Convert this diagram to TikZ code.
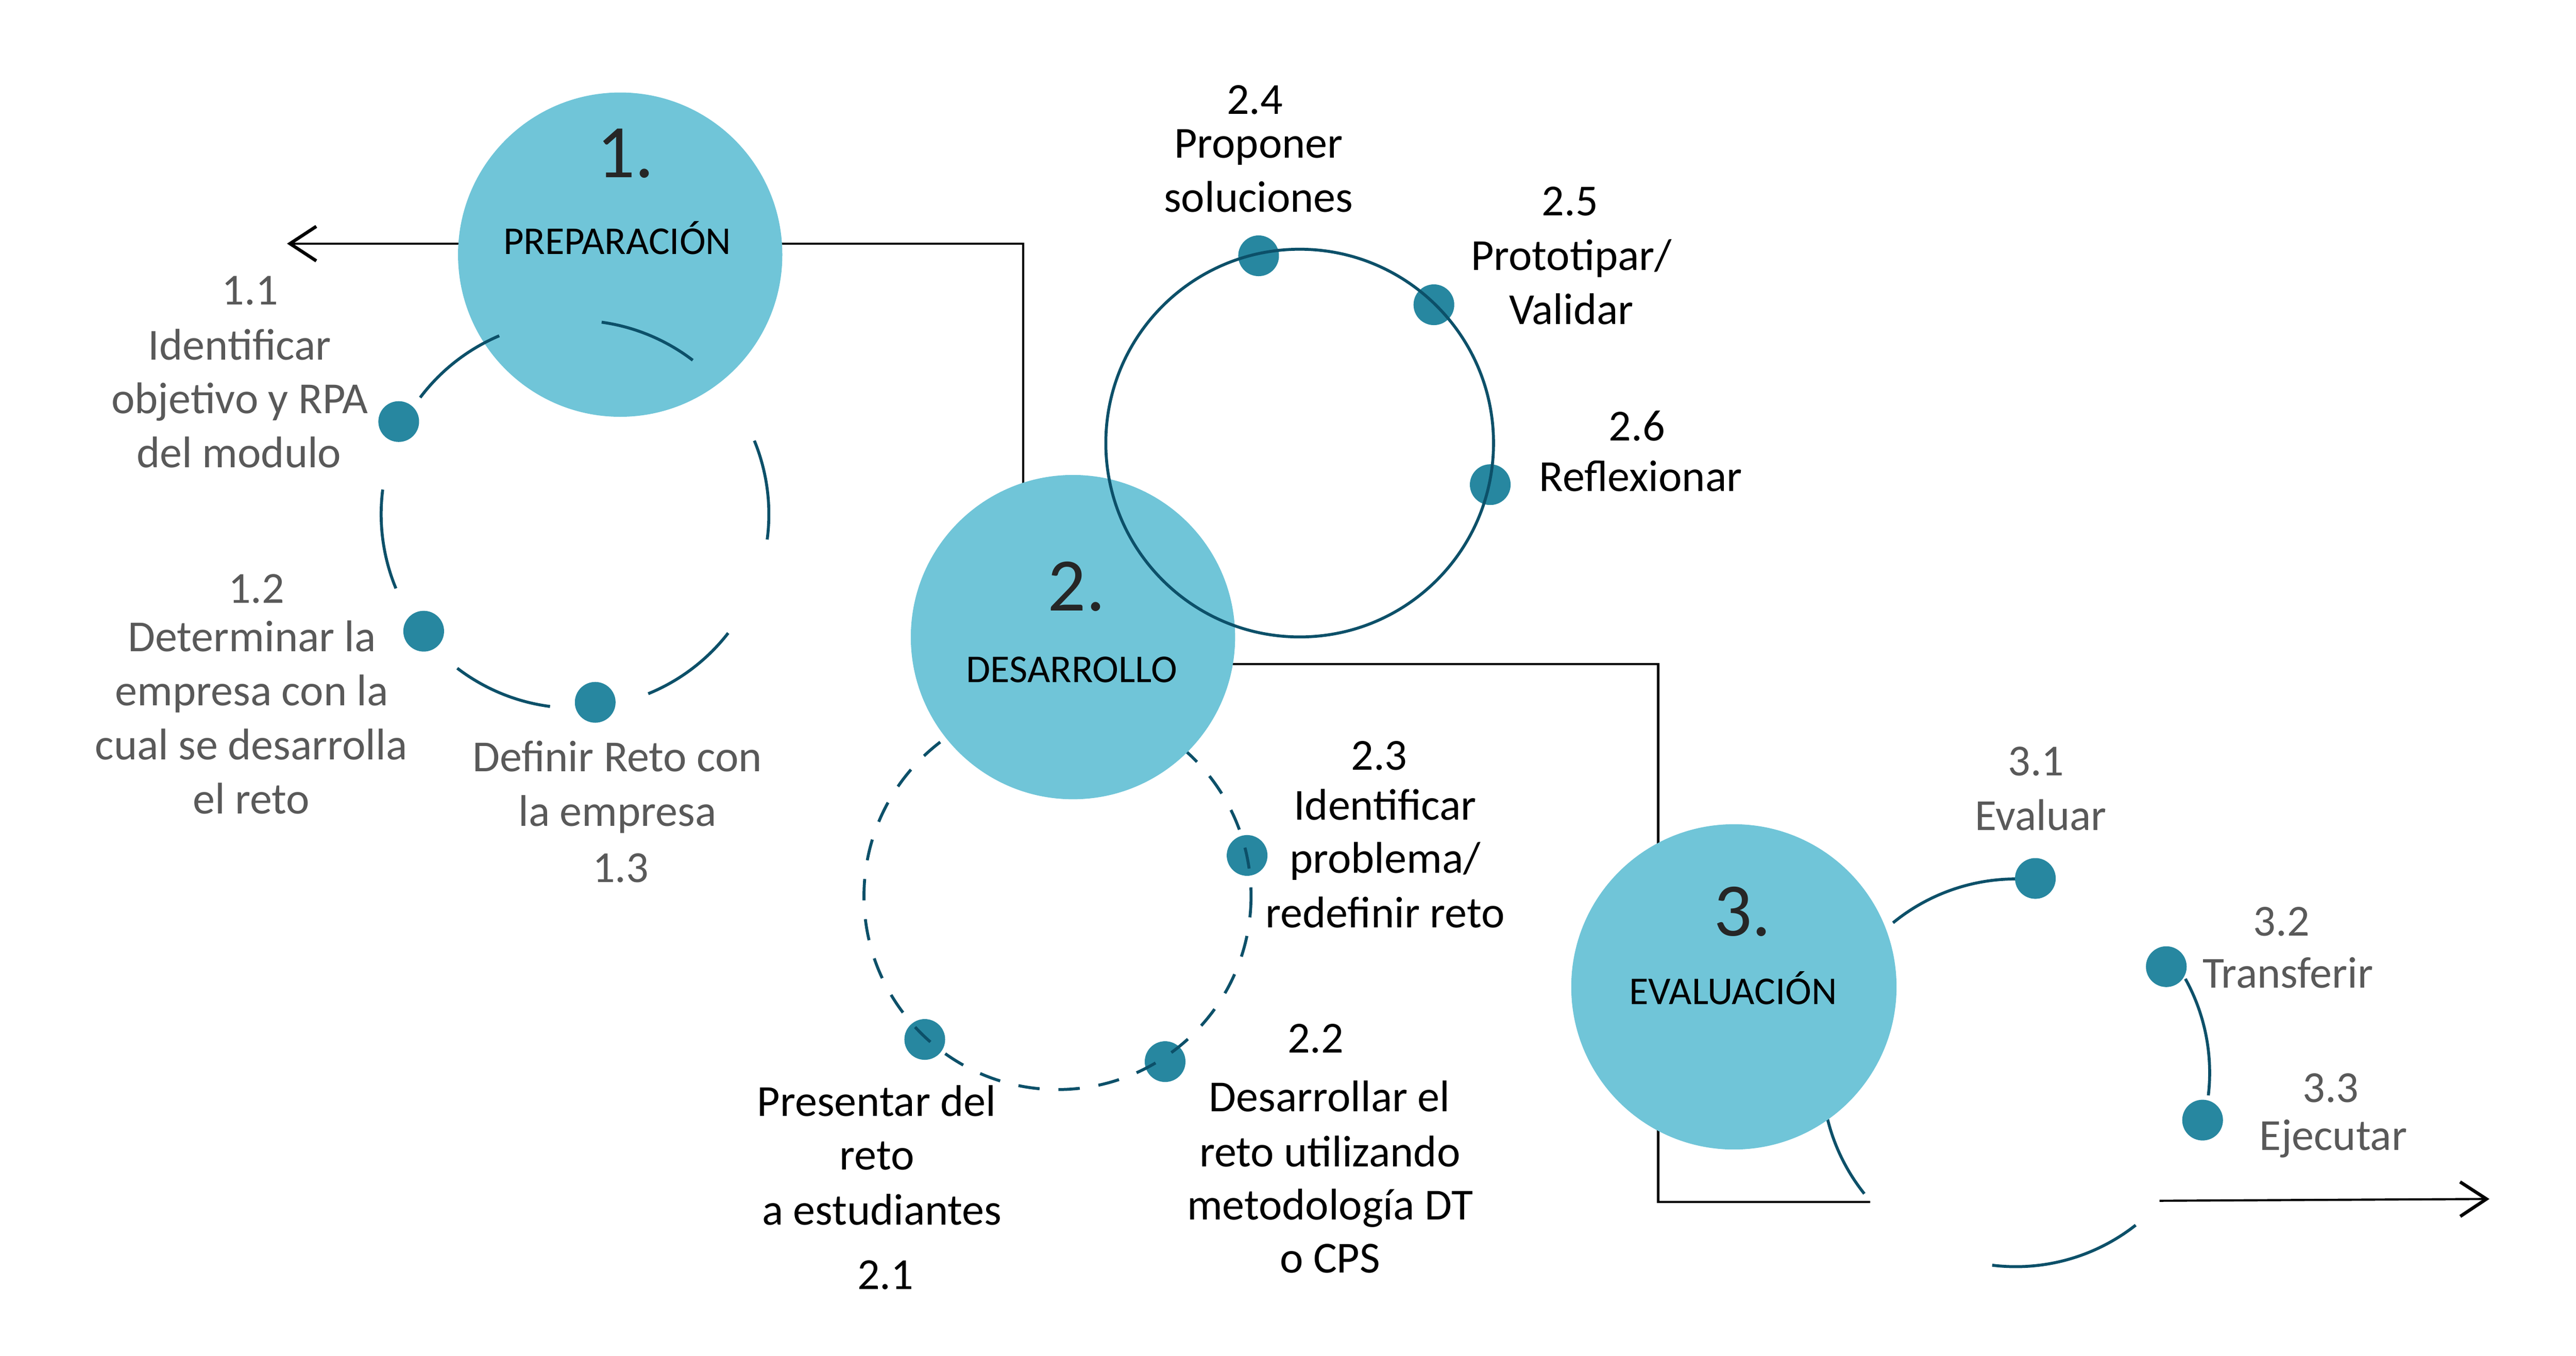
\documentclass[tikz,border=0pt]{standalone}
\usepackage{fontspec}
\setmainfont{Carlito}
\usetikzlibrary{arrows.meta}
\definecolor{cfill}{HTML}{70C5D8}
\definecolor{cdot}{HTML}{2787A0}
\definecolor{cring}{HTML}{0C5069}
\definecolor{cgray}{HTML}{595959}
\definecolor{cnum}{HTML}{262626}
\begin{document}
\begin{tikzpicture}[x=1pt,y=-1pt,
  bigc/.style={circle, fill=cfill, minimum size=197.4pt, inner sep=0pt},
  dotc/.style={circle, fill=cdot, minimum size=24.8pt, inner sep=0pt},
  ring/.style={draw=cring, line width=1.8pt},
  dring/.style={ring, dash pattern=on 13pt off 11.5pt},
  conn/.style={draw=black, line width=1.3pt},
  arrowtip/.style={-{Straight Barb[length=16pt,width=21pt,line width=2pt]}},
  lab/.style={anchor=base, inner sep=0pt, font=\fontsize{27}{33}\selectfont},
  glab/.style={lab, text=cgray},
  blab/.style={lab, text=black},
  ctext/.style={anchor=base, inner sep=0pt, font=\fontsize{24}{29}\selectfont, text=black},
  cnumt/.style={anchor=base, inner sep=0pt, font=\fontsize{46}{55}\selectfont, text=cnum}]
\useasboundingbox (0,0) rectangle (1568,825.2);

% centres
\coordinate (r1) at (350,313);
\coordinate (r2) at (643.7,545.4);
\coordinate (r2b) at (791.1,269.7);
\coordinate (r3) at (1227,653);
\coordinate (p1) at (377.5,155);
\coordinate (p2) at (653.1,387.8);
\coordinate (p3) at (1055.4,600.7);

% connectors (under circles)
\coordinate (a1) at (174.7,148.3);
\coordinate (k1) at (622.8,148.3);
\coordinate (k2) at (1009.3,404.1);
\coordinate (k3) at (1009.3,731.7);
\coordinate (e3) at (1138.3,731.7);
\coordinate (s4) at (1314.5,730.9);
\coordinate (a4) at (1515.3,729.8);
\draw[conn, arrowtip] (p1 |- a1) -- (a1);
\draw[conn] (p1 |- k1) -- (k1) -- (k1 |- p2);
\draw[conn] (p2 |- k2) -- (k2) -- (k3) -- (e3);
\draw[conn, arrowtip] (s4) -- (a4);

% phase 2 lower dots and dashed ring
\node[dotc] (d21) at (562.9,632.7) {};
\node[dotc] (d22) at (709.2,646.2) {};
\node[dotc] (d23) at (759.1,520.7) {};
\draw[dring] (r2) circle[radius=117.8];

% phase 3 ring arcs (under circle 3)
\draw[ring] ([shift={(-129.3:118)}]r3) arc[start angle=-129.3, end angle=-86, radius=118];
\draw[ring] ([shift={(-29:118)}]r3) arc[start angle=-29, end angle=6.7, radius=118];
\draw[ring] ([shift={(-192:118)}]r3) arc[start angle=-192, end angle=-218.6, radius=118];
\draw[ring] ([shift={(-263:118)}]r3) arc[start angle=-263, end angle=-308.2, radius=118];

% main circles
\node[bigc] (c1) at (p1) {};
\node[bigc] (c2) at (p2) {};
\node[bigc, minimum size=198pt] (c3) at (p3) {};

% phase 1 ring arcs
\draw[ring] ([shift={(-113:118)}]r1) arc[start angle=-113, end angle=-143, radius=118];
\draw[ring] ([shift={(-52.6:118)}]r1) arc[start angle=-52.6, end angle=-82.1, radius=118];
\draw[ring] ([shift={(7.5:118)}]r1) arc[start angle=7.5, end angle=-22.3, radius=118];
\draw[ring] ([shift={(67.8:118)}]r1) arc[start angle=67.8, end angle=37.8, radius=118];
\draw[ring] ([shift={(-232.6:118)}]r1) arc[start angle=-232.6, end angle=-262.6, radius=118];
\draw[ring] ([shift={(-172.7:118)}]r1) arc[start angle=-172.7, end angle=-202.5, radius=118];
\node[dotc] (d11) at (242.7,256.6) {};
\node[dotc] (d12) at (257.9,384.2) {};
\node[dotc] (d13) at (362.3,427.5) {};

% phase 2 upper dots and ring
\node[dotc] (d24) at (766.1,155.7) {};
\node[dotc] (d25) at (872.8,185.5) {};
\node[dotc] (d26) at (907.1,295) {};
\draw[ring] (r2b) circle[radius=118];

% phase 3 dots
\node[dotc] (d31) at (1238.9,534.7) {};
\node[dotc] (d32) at (1318.6,588.4) {};
\node[dotc] (d33) at (1340.7,681.8) {};

% central texts
\node[cnumt] (n1) at (380.7,108) {1.};
\node[ctext] (t1) at (375.7,154.8) {PREPARACIÓN};
\node[cnumt] (n2) at (655.3,371.9) {2.};
\node[ctext] (t2) at (652.4,415.3) {DESARROLLO};
\node[cnumt] (n3) at (1060.5,569.6) {3.};
\node[ctext] (t3) at (1055,611.4) {EVALUACIÓN};

% phase 1 labels
\node[glab] (l11a) at (152.2,185.6) {1.1};
\node[glab] (l11b) at (145.9,219.2) {Identificar};
\node[glab] (l11c) at (145.9,251.7) {objetivo y RPA};
\node[glab] (l11d) at (145.5,284.6) {del modulo};
\node[glab] (l12a) at (156.1,367) {1.2};
\node[glab] (l12b) at (153.4,396.6) {Determinar la};
\node[glab] (l12c) at (153.3,429.6) {empresa con la};
\node[glab] (l12d) at (152.9,462.3) {cual se desarrolla};
\node[glab] (l12e) at (153,495.4) {el reto};
\node[glab] (l13a) at (375.7,469.7) {Definir Reto con};
\node[glab] (l13b) at (375.8,502.7) {la empresa};
\node[glab] (l13c) at (377.8,537.1) {1.3};

% phase 2 labels
\node[blab] (l24a) at (763.8,69.4) {2.4};
\node[blab] (l24b) at (766.1,96.1) {Proponer};
\node[blab] (l24c) at (766.1,129) {soluciones};
\node[blab] (l25a) at (955.6,131.2) {2.5};
\node[blab] (l25b) at (956.5,164.6) {Prototipar/};
\node[blab] (l25c) at (956.5,197.4) {Validar};
\node[blab] (l26a) at (996.4,268.4) {2.6};
\node[blab] (l26b) at (998.7,299.1) {Reflexionar};
\node[blab] (l23a) at (839.5,468.6) {2.3};
\node[blab] (l23b) at (843.1,499.1) {Identificar};
\node[blab] (l23c) at (843.1,531.3) {problema/};
\node[blab] (l23d) at (843.1,564.6) {redefinir reto};
\node[blab] (l22a) at (800.8,640.9) {2.2};
\node[blab] (l22b) at (809.3,676.5) {Desarrollar el};
\node[blab] (l22c) at (809.5,710) {reto utilizando};
\node[blab] (l22d) at (809.6,742.3) {metodología DT};
\node[blab] (l22e) at (809.6,774.8) {o CPS};
\node[blab] (l21a) at (533.6,679.4) {Presentar del};
\node[blab] (l21b) at (533.8,712.1) {reto};
\node[blab] (l21c) at (536.8,745.6) {a estudiantes};
\node[blab] (l21d) at (539,784.8) {2.1};

% phase 3 labels
\node[glab] (l31a) at (1239.3,472.2) {3.1};
\node[glab] (l31b) at (1242.3,505.4) {Evaluar};
\node[glab] (l32a) at (1388.7,569.6) {3.2};
\node[glab] (l32b) at (1392.6,601.4) {Transferir};
\node[glab] (l33a) at (1418.7,671) {3.3};
\node[glab] (l33b) at (1420.3,700.2) {Ejecutar};
\end{tikzpicture}
\end{document}
